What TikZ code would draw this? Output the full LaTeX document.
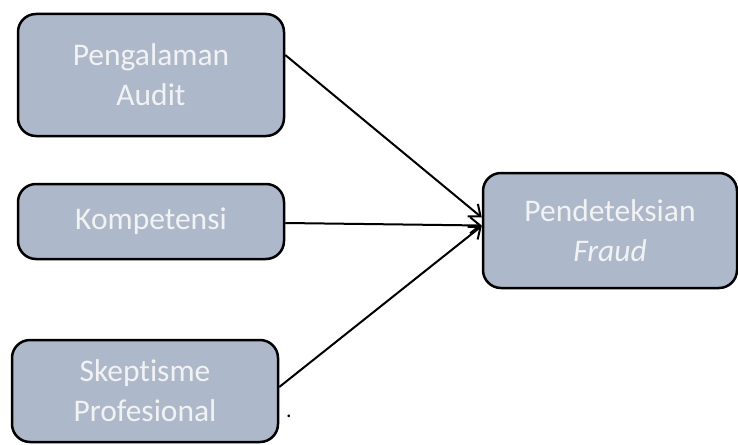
\documentclass[tikz,border=0pt]{standalone}
\usepackage{fontspec}
\setmainfont{Carlito}[Ligatures={NoCommon}]
\usetikzlibrary{arrows.meta}
\definecolor{boxfill}{RGB}{173,185,202}
\definecolor{boxtext}{RGB}{242,242,242}
\tikzset{
  varbox/.style={draw=black, line width=2.5pt, fill=boxfill, rounded corners=18pt,
    text=boxtext, align=center, inner sep=0pt,
    font=\fontsize{31.5}{40}\selectfont},
  conn/.style={line width=2pt, -{Straight Barb[length=10pt,width=16pt,line width=2pt]}}
}
\begin{document}
\begin{tikzpicture}[x=1pt,y=-1pt]
\useasboundingbox (0,0) rectangle (738,444);
\node[varbox, minimum width=266pt, minimum height=122pt] (b1) at (151,75) {Pengalaman\\Audit};
\node[varbox, minimum width=266pt, minimum height=75pt] (b2) at (151,221.5) {Kompetensi};
\node[varbox, minimum width=266pt, minimum height=102pt] (b3) at (145,391) {Skeptisme\\Profesional};
\node[varbox, minimum width=254pt, minimum height=115pt] (b4) at (610,230.5) {Pendeteksian\\\textit{Fraud}};
\node[font=\fontsize{22}{26}\selectfont, inner sep=0pt] (dot) at (289,416) {.};
\draw[conn] ([yshift=20pt]b1.east) -- ([yshift=13pt]b4.west);
\draw[conn] ([yshift=-1.5pt]b2.east) -- ([yshift=5pt]b4.west);
\draw[conn] ([yshift=4pt]b3.east) -- ([yshift=4.5pt]b4.west);
\end{tikzpicture}
\end{document}
